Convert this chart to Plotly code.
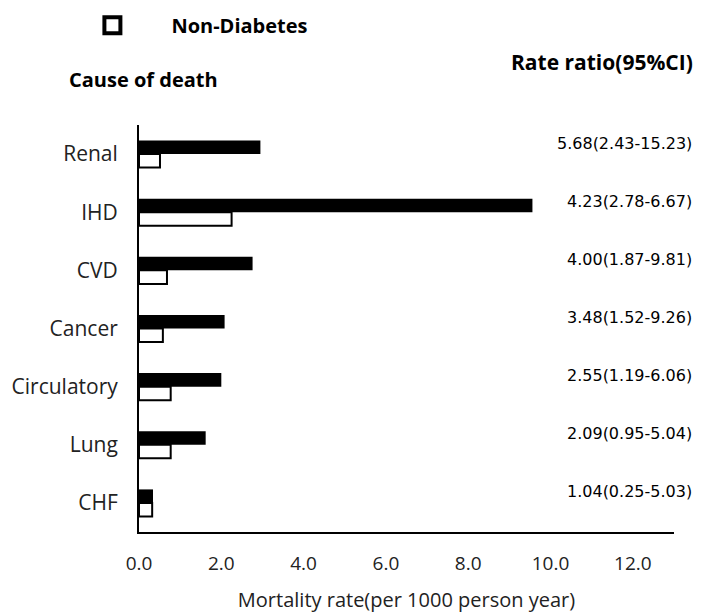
import plotly.graph_objects as go

# Causes of death, top to bottom
causes = ["Renal", "IHD", "CVD", "Cancer", "Circulatory", "Lung", "CHF"]

# Mortality rate per 1000 person-years
diabetes_rate = [2.95, 9.56, 2.76, 2.08, 2.00, 1.62, 0.34]
non_diabetes_rate = [0.51, 2.25, 0.68, 0.58, 0.77, 0.77, 0.32]

# Rate ratio with 95% confidence interval
rate_ratio = ["5.68(2.43-15.23)", "4.23(2.78-6.67)", "4.00(1.87-9.81)",
              "3.48(1.52-9.26)", "2.55(1.19-6.06)", "2.09(0.95-5.04)",
              "1.04(0.25-5.03)"]

x_ticks = [0, 2, 4, 6, 8, 10, 12]

SEGOE_LIKE = "Open Sans, Noto Sans, sans-serif"

fig = go.Figure()
fig.add_trace(go.Bar(
    y=causes, x=diabetes_rate, orientation="h", name="Diabetes",
    marker=dict(color="black", line=dict(width=0)), showlegend=False,
))
fig.add_trace(go.Bar(
    y=causes, x=non_diabetes_rate, orientation="h", name="Non-Diabetes",
    marker=dict(color="white", line=dict(color="black", width=2)),
    legendgroup="nd", showlegend=False,
))
# legend key for the non-diabetes bars: a heavy open square
fig.add_trace(go.Scatter(
    x=[None], y=[None], mode="markers", name="Non-Diabetes",
    legendgroup="nd", showlegend=True,
    marker=dict(symbol="square-open", size=16, color="black",
                line=dict(width=4, color="black")),
))

annotations = []
for cause, rr in zip(causes, rate_ratio):
    annotations.append(dict(
        text=rr, x=1.0374, xref="paper", xanchor="right",
        y=cause, yref="y", yanchor="middle", yshift=11, showarrow=False,
        font=dict(family="DejaVu Sans", size=16, color="black"),
    ))

annotations.append(dict(
    text="Cause of death", x=-0.1346, xref="paper", xanchor="left",
    y=1.113, yref="paper", yanchor="middle", showarrow=False,
    font=dict(family=SEGOE_LIKE, size=20, color="black", weight="bold"),
))
annotations.append(dict(
    text="Rate ratio(95%CI)", x=1.0393, xref="paper", xanchor="right",
    y=1.155, yref="paper", yanchor="middle", showarrow=False,
    font=dict(family=SEGOE_LIKE, size=21, color="black", weight="bold"),
))

fig.update_layout(
    width=715, height=616,
    margin=dict(l=139, r=41, t=125, b=84, pad=0, autoexpand=False),
    paper_bgcolor="white", plot_bgcolor="white",
    barmode="group", bargap=0.535, bargroupgap=0,
    showlegend=True,
    legend=dict(
        x=-0.16, xanchor="left", y=1.245, yanchor="middle",
        itemwidth=108, itemsizing="trace",
        font=dict(family=SEGOE_LIKE, size=20, color="black", weight="bold"),
        bgcolor="rgba(0,0,0,0)",
    ),
    annotations=annotations,
    font=dict(family=SEGOE_LIKE, color="black"),
)

fig.update_xaxes(
    range=[0, 13], tickvals=x_ticks, tickformat=".1f",
    showline=True, linecolor="black", linewidth=2,
    ticks="outside", ticklen=13, tickcolor="rgba(0,0,0,0)",
    showgrid=False, zeroline=False,
    tickfont=dict(family=SEGOE_LIKE, size=19, color="#222"),
    title=dict(text="Mortality rate(per 1000 person year)",
               font=dict(family=SEGOE_LIKE, size=20, color="#222"),
               standoff=18),
)
fig.update_yaxes(
    autorange="reversed", showline=True, linecolor="black", linewidth=2,
    ticks="outside", ticklen=15, tickcolor="rgba(0,0,0,0)",
    showgrid=False, zeroline=False,
    tickfont=dict(family=SEGOE_LIKE, size=21, color="#222"),
)

fig.write_html("out.html")
